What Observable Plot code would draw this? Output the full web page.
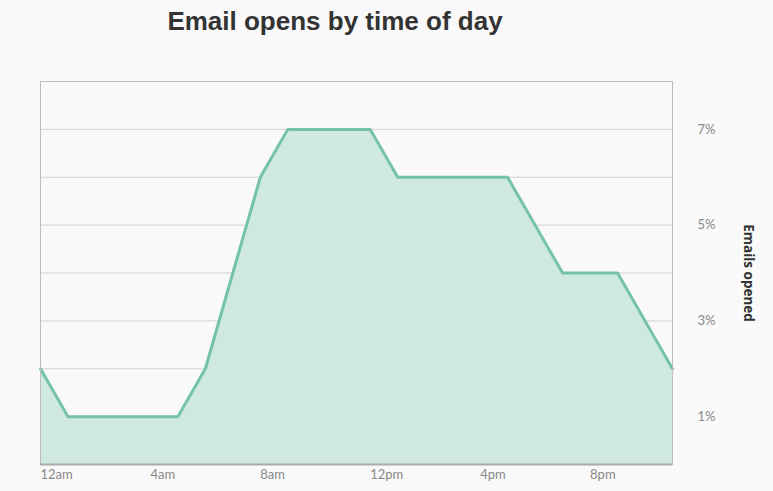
<!DOCTYPE html>
<html><head><meta charset="utf-8">
<script src="https://cdn.jsdelivr.net/npm/d3@7"></script>
<script src="https://cdn.jsdelivr.net/npm/@observablehq/plot@0.6"></script>
<style>
html,body{margin:0;padding:0;background:#f9f9f9;}
#title{height:50px;width:773px;box-sizing:border-box;font:bold 26px "Liberation Sans",Arial,sans-serif;color:#333;line-height:42px;text-align:center;padding-right:103px;}
</style></head>
<body>
<div id="title">Email opens by time of day</div>
<div id="chart"></div>
<script>
const hours = d3.range(24);
const opens = [2,1,1,1,1,1,2,4,6,7,7,7,7,6,6,6,6,6,5,4,4,4,3,2];
const xTicks = [0,4,8,12,16,20];
const xTickLabels = ["12am","4am","8am","12pm","4pm","8pm"];
const yTicks = [1,3,5,7];
const gridValues = [1,2,3,4,5,6,7];
const data = hours.map((h,i)=>({h, v: opens[i]}));

const chart = Plot.plot({
  width: 773, height: 441,
  marginTop: 31, marginBottom: 27, marginLeft: 40, marginRight: 101,
  style: {background: "#f9f9f9", fontFamily: "Lato, sans-serif"},
  x: {domain: [0,23]},
  y: {domain: [0,8]},
  marks: [
    Plot.ruleY(gridValues, {stroke: "#d2d2d2", strokeWidth: 1}),
    Plot.areaY(data, {x: "h", y: "v", fill: "#cfe8e0", fillOpacity: 1}),
    Plot.line(data, {x: "h", y: "v", stroke: "#74c2ab", strokeWidth: 3, strokeLinejoin: "miter"}),
    Plot.frame({stroke: "#bdbdbd"}),
    Plot.ruleY([0], {stroke: "#aaaaaa", strokeWidth: 2}),
    Plot.axisX({ticks: xTicks, tickFormat: (d)=>xTickLabels[xTicks.indexOf(d)], tickSize: 0, tickPadding: 5, textAnchor: "start", fill: "#888", fontSize: 13, label: null}),
    Plot.axisY({anchor: "right", ticks: yTicks, tickFormat: d=>d+"%", tickSize: 0, tickPadding: 25, textAnchor: "start", fill: "#888", fontSize: 13, label: null}),
    Plot.text(["Emails opened"], {frameAnchor: "right", dx: 76, rotate: 90, textAnchor: "middle", fontWeight: "bold", fontSize: 13.5, fill: "#333", fontFamily: "Open Sans, sans-serif"})
  ]
});
document.getElementById("chart").appendChild(chart);
</script>
</body></html>
